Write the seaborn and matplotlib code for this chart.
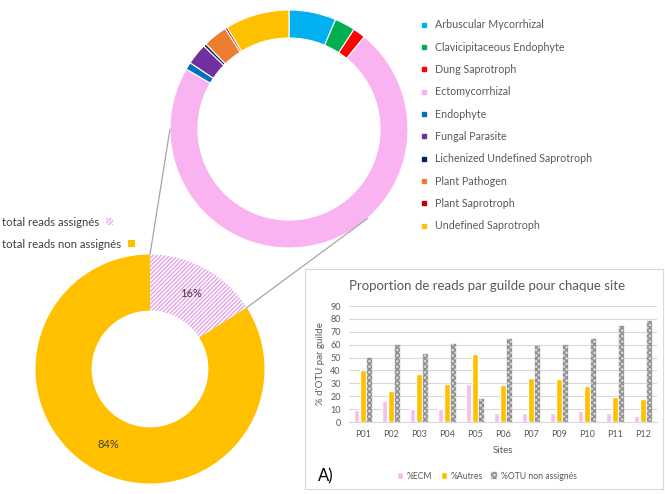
import numpy as np
import pandas as pd
import seaborn as sns
import matplotlib.pyplot as plt
from matplotlib.patches import Rectangle, ConnectionPatch
from matplotlib.lines import Line2D

# Guild composition of the assigned reads (top donut), in %
guilds = ['Arbuscular Mycorrhizal', 'Clavicipitaceous Endophyte', 'Dung Saprotroph',
          'Ectomycorrhizal', 'Endophyte', 'Fungal Parasite',
          'Lichenized Undefined Saprotroph', 'Plant Pathogen', 'Plant Saprotroph',
          'Undefined Saprotroph']
guild_pct = [6.4, 2.8, 1.7, 72.5, 1.0, 2.9, 0.4, 3.3, 0.3, 8.7]
guild_colors = ['#00B0F0', '#00B050', '#FF0000', '#F9B3F0', '#0070C0', '#7030A0',
                '#002060', '#ED7D31', '#C00000', '#FFC000']

# Assigned vs non assigned reads (bottom donut)
read_labels = ['total reads assignés', 'total reads non assignés']
read_pct = [16, 84]

# Proportion of reads per guild for each site (bar chart)
sites = ['P01', 'P02', 'P03', 'P04', 'P05', 'P06', 'P07', 'P09', 'P10', 'P11', 'P12']
ecm = [9.0, 16.0, 10.3, 10.3, 29.4, 6.7, 6.7, 6.7, 8.2, 6.7, 4.4]
autres = [40.7, 24.2, 36.9, 29.4, 53.0, 28.9, 34.5, 33.5, 27.6, 19.1, 18.0]
non_assignes = [50.0, 59.8, 53.0, 60.6, 17.8, 64.4, 59.3, 59.8, 64.7, 74.5, 78.4]
series = ['%ECM', '%Autres', '%OTU non assignés']

sns.set_style('white')
plt.rcParams['font.family'] = ['Lato', 'DejaVu Sans']

W, H = 665, 494
fig = plt.figure(figsize=(W / 100, H / 100), dpi=100)


def box(cx, cy, r):
    # axes rectangle (figure fraction) for a circle centred at pixel (cx, cy)
    return [(cx - r) / W, 1 - (cy + r) / H, 2 * r / W, 2 * r / H]


# ---- top donut
ax_top = fig.add_axes(box(289, 129, 119))
ax_top.pie(guild_pct, colors=guild_colors, startangle=90, counterclock=False,
           wedgeprops=dict(width=0.235, edgecolor='white', linewidth=0.8))
ax_top.set_xlim(-1, 1)
ax_top.set_ylim(-1, 1)
ax_top.axis('off')

handles = [Line2D([], [], marker='s', linestyle='', color=c, markersize=3.2) for c in guild_colors]
fig.legend(handles, guilds, loc='upper left', bbox_to_anchor=(414 / W, 1 - 15 / H),
           frameon=False, fontsize=7.7, labelcolor='#595959', labelspacing=1.06,
           handlelength=1.0, handletextpad=0.6, borderaxespad=0)

# ---- bottom donut
ax_bot = fig.add_axes(box(150, 369, 114.5))
wedges, _, autotexts = ax_bot.pie(read_pct, colors=['white', '#FFC000'], startangle=90,
                                  counterclock=False, autopct='%1.0f%%', pctdistance=0.75,
                                  wedgeprops=dict(width=0.49, linewidth=0),
                                  textprops=dict(fontsize=8, color='#404040'))
wedges[0].set_hatch('////////')
wedges[0].set_edgecolor('#E6A3E6')
ax_bot.set_xlim(-1, 1)
ax_bot.set_ylim(-1, 1)
ax_bot.axis('off')

# one small legend per entry: text first, marker just after it
for w, lab, y in zip(wedges, read_labels, [222, 244]):
    fig.legend([w], [lab], loc='center left', bbox_to_anchor=(-0.004, 1 - y / H),
               frameon=False, markerfirst=False, fontsize=8.2, labelcolor='#404040',
               handlelength=0.6, handleheight=0.6, handletextpad=0.6, borderaxespad=0)

# connector lines between both donuts
theta = 2 * np.pi * read_pct[0] / 100
phi = np.deg2rad(138.8)
for xyA, xyB in [((0, 1), (-1, 0)), ((np.sin(theta), np.cos(theta)), (np.sin(phi), np.cos(phi)))]:
    cp = ConnectionPatch(xyA=xyA, coordsA=ax_bot.transData, xyB=xyB, coordsB=ax_top.transData,
                         color='#A6A6A6', lw=0.9)
    fig.add_artist(cp)

# ---- bar chart panel
fig.patches.append(Rectangle((305 / W, 1 - 489 / H), 358 / W, 220 / H, transform=fig.transFigure,
                             facecolor='white', edgecolor='#D9D9D9', lw=0.8, zorder=-1))

ax_bar = fig.add_axes([349 / W, 1 - 422 / H, 308 / W, 116 / H])
ax_bar.patch.set_alpha(0)
df = pd.DataFrame({'Site': sites * 3,
                   'serie': np.repeat(series, len(sites)),
                   'value': ecm + autres + non_assignes})
sns.barplot(data=df, x='Site', y='value', hue='serie', palette=['#F8BDF0', '#FFC000', '#D6D6D6'],
            saturation=1, width=0.7, gap=0.1, ax=ax_bar, legend=False)
for p in ax_bar.containers[2]:
    p.set_hatch('xxxxxx')
    p.set_edgecolor('#8C8C8C')
    p.set_linewidth(0.2)

ax_bar.set_ylim(0, 90)
ax_bar.set_yticks(range(0, 91, 10))
ax_bar.yaxis.grid(True, color='#D9D9D9', lw=0.8)
ax_bar.set_axisbelow(True)
sns.despine(ax=ax_bar, left=True)
ax_bar.spines['bottom'].set_color('#D9D9D9')
ax_bar.tick_params(length=0, labelsize=6.5, labelcolor='#595959', pad=6)
ax_bar.set_xlabel('Sites', fontsize=7, color='#595959', labelpad=5)
ax_bar.set_ylabel("% d'OTU par guilde", fontsize=7, color='#595959', labelpad=4)

fig.text(487 / W, 1 - 286 / H, 'Proportion de reads par guilde pour chaque site',
         ha='center', va='center', fontsize=9.5, color='#595959')
fig.text(318 / W, 1 - 476 / H, 'A)', ha='left', va='center', fontsize=12, color='black')

bar_handles = [ax_bar.containers[i][0] for i in range(3)]
fig.legend(bar_handles, series, loc='center', bbox_to_anchor=(487 / W, 1 - 476 / H), ncol=3,
           frameon=False, fontsize=6.2, labelcolor='#595959', handlelength=0.7,
           handleheight=0.7, handletextpad=0.4, columnspacing=1.0)

fig.savefig('out.png', dpi=100)
